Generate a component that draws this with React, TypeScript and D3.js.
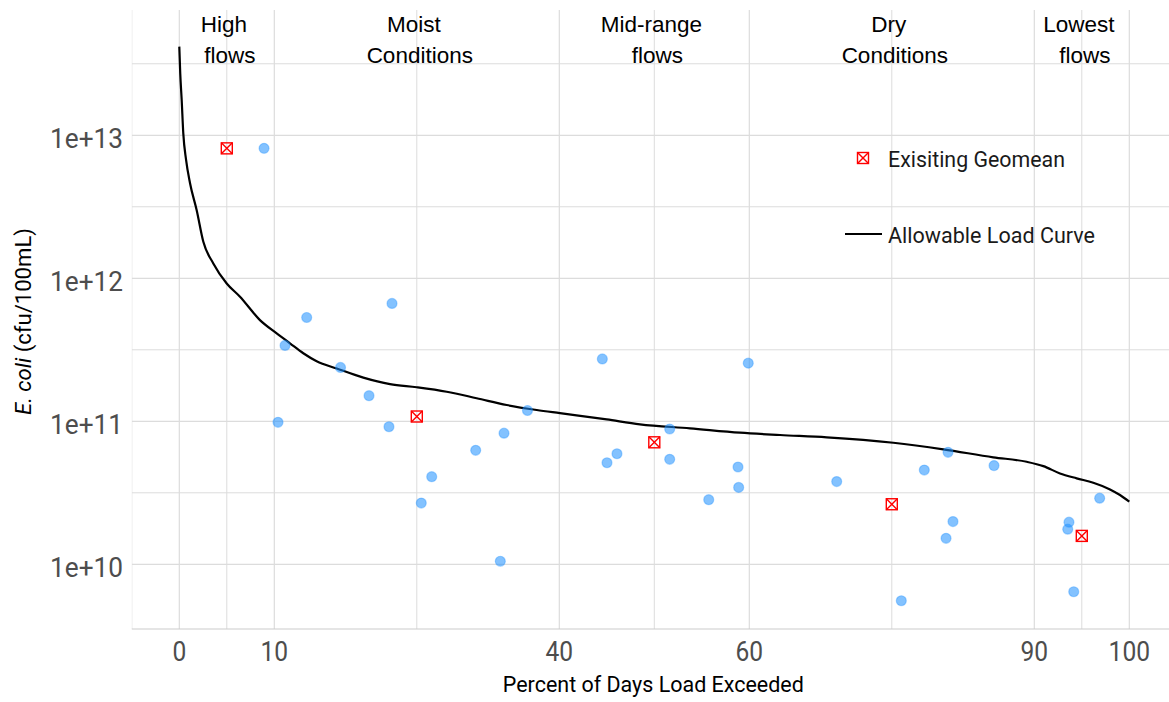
import React from 'react';
import * as d3 from 'd3';

// Allowable load curve (percent of days exceeded vs load)
const curveX = [0, 0.1, 0.25, 0.42, 0.71, 1.13, 1.83, 2.53, 3.58, 4.99, 6.39, 8.49, 10.25, 11.65, 13.05, 14.46, 16.57, 19.37, 22.18, 24.99, 28.15, 31.3, 34.46, 37.62, 40.07, 44.99, 48.49, 53.76, 59.02, 63.23, 68.15, 75.16, 80.42, 85.68, 89.2, 90.95, 92.7, 94.46, 96.21, 97.97, 99.02, 100];
const curveY = [4.17e13, 2.7e13, 1.77e13, 1.03e13, 6.76e12, 4.62e12, 2.99e12, 1.8e12, 1.27e12, 9.2e11, 7.43e11, 5.1e11, 4.12e11, 3.51e11, 2.99e11, 2.63e11, 2.34e11, 2.02e11, 1.82e11, 1.73e11, 1.61e11, 1.45e11, 1.30e11, 1.2e11, 1.14e11, 1.03e11, 9.53e10, 8.93e10, 8.32e10, 8.02e10, 7.73e10, 7.08e10, 6.37e10, 5.6e10, 5.21e10, 4.86e10, 4.32e10, 3.99e10, 3.72e10, 3.34e10, 3.05e10, 2.74e10];

// Observed samples
const sampleX = [8.92, 10.39, 11.13, 13.41, 16.97, 19.97, 22.07, 22.39, 25.47, 26.57, 31.2, 33.79, 34.18, 36.65, 44.53, 45.02, 46.07, 51.62, 51.62, 55.73, 58.81, 58.88, 59.89, 69.2, 76.0, 78.42, 80.71, 80.92, 81.44, 85.76, 93.52, 93.65, 94.15, 96.88];
const sampleY = [8.1e12, 9.84e10, 3.39e11, 5.32e11, 2.38e11, 1.51e11, 9.16e10, 6.67e11, 2.68e10, 4.1e10, 6.27e10, 1.05e10, 8.26e10, 1.19e11, 2.73e11, 5.13e10, 5.93e10, 8.83e10, 5.42e10, 2.83e10, 4.79e10, 3.45e10, 2.55e11, 3.79e10, 5.56e9, 4.56e10, 1.52e10, 6.07e10, 1.99e10, 4.9e10, 1.76e10, 1.97e10, 6.43e9, 2.9e10];

// Existing geomean per flow zone
const geomeanX = [5, 25, 50, 75, 95];
const geomeanY = [8.1e12, 1.08e11, 7.13e10, 2.63e10, 1.58e10];

const xTicks = [0, 10, 40, 60, 90, 100];
const yTicks = [1e10, 1e11, 1e12, 1e13];
const yTickLabels = ['1e+10', '1e+11', '1e+12', '1e+13'];

const zoneX = [5, 25, 50, 75, 95];
const zoneLine1 = ['High', 'Moist', 'Mid-range', 'Dry', 'Lowest'];
const zoneLine2 = ['flows', 'Conditions', 'flows', 'Conditions', 'flows'];

const W = 1169;
const H = 702;
const PL = 131.8, PR = 1176.8, PT = 10, PB = 629;
const COND = 'Roboto, "Noto Sans", sans-serif';
const ARIAL = '"Liberation Sans", Arial, sans-serif';

export default function App() {
  const x = d3.scaleLinear().domain([-5, 105]).range([PL, PR]);
  const y = d3.scaleLog().domain([Math.pow(10, 9.5476), Math.pow(10, 13.876)]).range([PB, PT]);

  const xMinor: number[] = [];
  xMinor.push(xTicks[0] - (xTicks[1] - xTicks[0]) / 2);
  for (let i = 0; i < xTicks.length - 1; i++) xMinor.push((xTicks[i] + xTicks[i + 1]) / 2);
  xMinor.push(xTicks[xTicks.length - 1] + (xTicks[xTicks.length - 1] - xTicks[xTicks.length - 2]) / 2);
  const yMinor: number[] = [];
  for (let i = 0; i < yTicks.length - 1; i++) yMinor.push(Math.sqrt(yTicks[i] * yTicks[i + 1]));
  yMinor.push(yTicks[yTicks.length - 1] * Math.sqrt(10));

  const line = d3.line<number>().x((_, i) => x(curveX[i])).y((d) => y(d)).curve(d3.curveMonotoneX);
  const curvePath = line(curveY) || '';

  const grid = '#dcdcdc';
  const sq = 5.5;

  const geoMarker = (cx: number, cy: number, key: string) => (
    <g key={key} stroke="#ff0000" strokeWidth={1.4} fill="none">
      <rect x={cx - sq} y={cy - sq} width={sq * 2} height={sq * 2} />
      <line x1={cx - sq} y1={cy - sq} x2={cx + sq} y2={cy + sq} />
      <line x1={cx - sq} y1={cy + sq} x2={cx + sq} y2={cy - sq} />
    </g>
  );

  return (
    <svg width={W} height={H} style={{ position: 'fixed', left: 0, top: 0, background: '#fff' }}>
      <defs>
        <clipPath id="panel">
          <rect x={PL} y={PT} width={PR - PL} height={PB - PT} />
        </clipPath>
      </defs>
      {/* grid */}
      <g clipPath="url(#panel)">
        {yMinor.map((v, i) => (
          <line key={'ym' + i} x1={PL} x2={PR} y1={y(v)} y2={y(v)} stroke={grid} strokeWidth={1} />
        ))}
        {yTicks.map((v, i) => (
          <line key={'yM' + i} x1={PL} x2={PR} y1={y(v)} y2={y(v)} stroke={grid} strokeWidth={1.2} />
        ))}
        {xMinor.map((v, i) => (
          <line key={'xm' + i} x1={x(v)} x2={x(v)} y1={PT} y2={PB} stroke={grid} strokeWidth={1} />
        ))}
        {xTicks.map((v, i) => (
          <line key={'xM' + i} x1={x(v)} x2={x(v)} y1={PT} y2={PB} stroke={grid} strokeWidth={1.2} />
        ))}
      </g>
      <line x1={PL} x2={PR} y1={PB} y2={PB} stroke="#cccccc" strokeWidth={1.2} />

      {/* zone labels */}
      {zoneX.map((v, i) => (
        <g key={'z' + i} fontFamily={ARIAL} fontSize={22.5} fill="#000" textAnchor="middle">
          <text x={x(v) - 3} y={32}>{zoneLine1[i]}</text>
          <text x={x(v) + 3} y={63}>{zoneLine2[i]}</text>
        </g>
      ))}

      {/* curve */}
      <path d={curvePath} fill="none" stroke="#000" strokeWidth={2.2} strokeLinejoin="round" />

      {/* samples */}
      {sampleX.map((v, i) => (
        <circle key={'s' + i} cx={x(v)} cy={y(sampleY[i])} r={5}
          fill="#1E90FF" fillOpacity={0.55} stroke="#1E90FF" strokeOpacity={0.35} strokeWidth={1.2} />
      ))}

      {/* geomeans */}
      {geomeanX.map((v, i) => geoMarker(x(v), y(geomeanY[i]), 'g' + i))}

      {/* y ticks */}
      {yTicks.map((v, i) => (
        <text key={'yt' + i} x={123} y={y(v) + 12.5} textAnchor="end" fontFamily={COND} fontSize={28}
          fill="#4d4d4d" textLength={73} lengthAdjust="spacingAndGlyphs">{yTickLabels[i]}</text>
      ))}
      {/* x ticks */}
      {xTicks.map((v, i) => (
        <text key={'xt' + i} x={x(v)} y={661} textAnchor="middle" fontFamily={COND} fontSize={28}
          fill="#4d4d4d" textLength={13.8 * String(v).length} lengthAdjust="spacingAndGlyphs">{String(v)}</text>
      ))}

      {/* axis titles */}
      <text x={(PL + PR) / 2 - 1} y={692} textAnchor="middle" fontFamily={COND} fontSize={22}
        fill="#000" textLength={301} lengthAdjust="spacingAndGlyphs">Percent of Days Load Exceeded</text>
      <text transform={`translate(31, ${(PT + PB) / 2 + 2}) rotate(-90)`} textAnchor="middle"
        fontFamily={COND} fontSize={21.5} fill="#000" textLength={187} lengthAdjust="spacingAndGlyphs">
        <tspan fontStyle="italic">E. coli</tspan>
        <tspan> (cfu/100mL)</tspan>
      </text>

      {/* legend */}
      {geoMarker(863, 158, 'leg')}
      <text x={888} y={167} fontFamily={COND} fontSize={22.5} fill="#1a1a1a" textLength={177}
        lengthAdjust="spacingAndGlyphs">Exisiting Geomean</text>
      <line x1={845} x2={882} y1={234} y2={234} stroke="#000" strokeWidth={2.2} />
      <text x={888} y={243} fontFamily={COND} fontSize={22.5} fill="#1a1a1a" textLength={207}
        lengthAdjust="spacingAndGlyphs">Allowable Load Curve</text>
    </svg>
  );
}
